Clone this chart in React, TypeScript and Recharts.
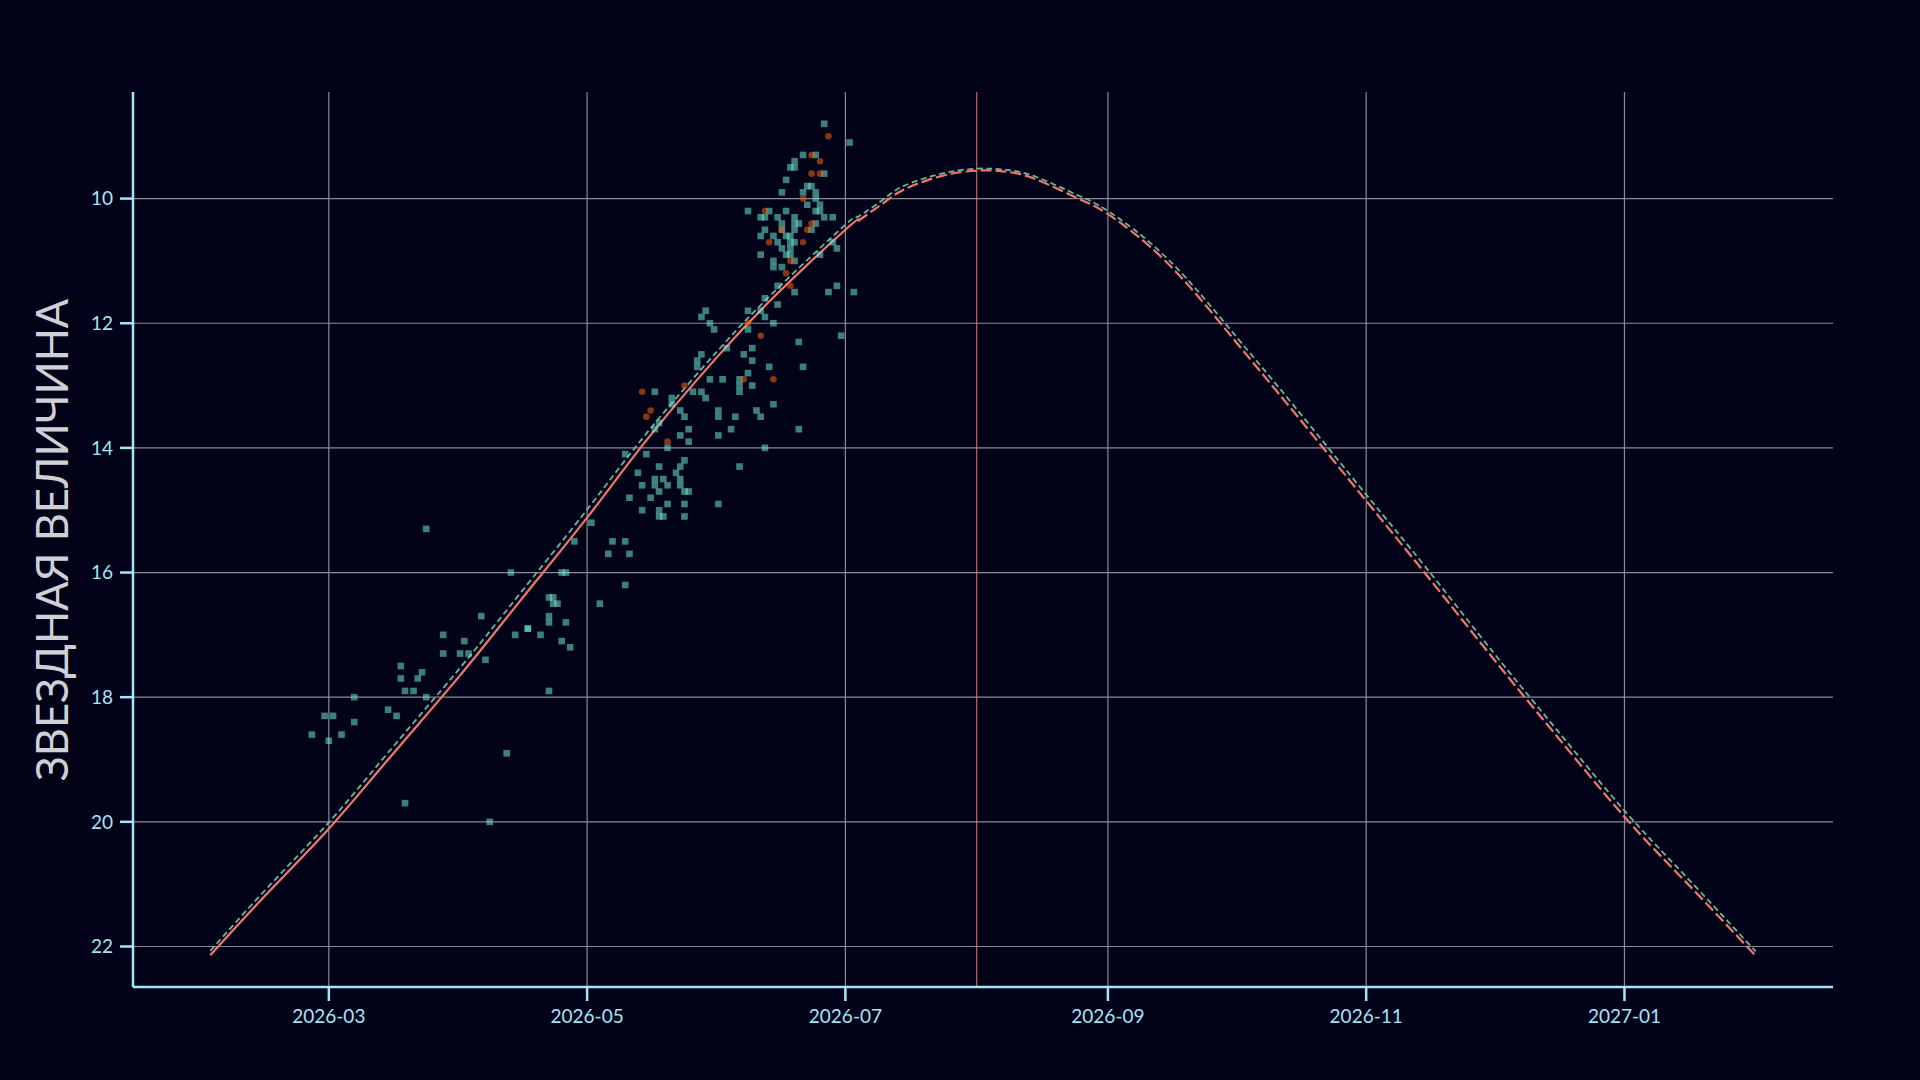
import React from "react";
import {
  ComposedChart,
  Line,
  ReferenceLine,
  Scatter,
  XAxis,
  YAxis,
} from "recharts";

type Obs = [string, number];

// predicted light curve (solid red until the last observation, dashed after)
const fitDates = [
  "2026-02-01", "2026-02-15", "2026-03-01", "2026-03-15", "2026-04-01", "2026-04-15",
  "2026-05-01", "2026-05-15", "2026-06-01", "2026-06-15", "2026-07-01", "2026-07-04",
  "2026-07-11", "2026-07-15", "2026-07-23", "2026-08-01", "2026-08-08", "2026-08-15",
  "2026-08-25", "2026-09-01", "2026-09-15", "2026-10-01", "2026-10-15", "2026-11-01",
  "2026-11-15", "2026-12-01", "2026-12-15", "2027-01-01", "2027-01-15", "2027-02-01",
];
const fitMag = [
  22.14, 21.11, 20.11, 19.0, 17.65, 16.47,
  15.12, 13.88, 12.52, 11.52, 10.5, 10.36,
  10.02, 9.85, 9.65, 9.55, 9.57, 9.69,
  10.0, 10.25, 11.03, 12.28, 13.43, 14.85,
  16.02, 17.38, 18.54, 19.92, 20.93, 22.15,
];
const altMag = [
  22.07, 21.02, 20.01, 18.89, 17.53, 16.35,
  14.99, 13.77, 12.43, 11.44, 10.42, 10.29,
  9.96, 9.79, 9.61, 9.52, 9.54, 9.65,
  9.95, 10.2, 10.96, 12.19, 13.33, 14.75,
  15.91, 17.28, 18.44, 19.82, 20.84, 22.08,
];
const lastObs = "2026-07-04";
const perihelion = "2026-08-01";

const obsFebApr: Obs[] = [
  ["2026-02-25", 18.6], ["2026-02-28", 18.3], ["2026-03-01", 18.7], ["2026-03-02", 18.3],
  ["2026-03-04", 18.6], ["2026-03-07", 18.0], ["2026-03-07", 18.4], ["2026-03-15", 18.2],
  ["2026-03-17", 18.3], ["2026-03-18", 17.5], ["2026-03-18", 17.7], ["2026-03-19", 17.9],
  ["2026-03-19", 19.7], ["2026-03-21", 17.9], ["2026-03-22", 17.7], ["2026-03-23", 17.6],
  ["2026-03-24", 18.0], ["2026-03-24", 15.3], ["2026-03-28", 17.0], ["2026-03-28", 17.3],
  ["2026-04-01", 17.3], ["2026-04-02", 17.1], ["2026-04-03", 17.3], ["2026-04-06", 16.7],
  ["2026-04-07", 17.4], ["2026-04-08", 20.0], ["2026-04-12", 18.9], ["2026-04-13", 16.0],
  ["2026-04-14", 17.0], ["2026-04-17", 16.9], ["2026-04-17", 16.9], ["2026-04-20", 17.0],
  ["2026-04-22", 16.4], ["2026-04-22", 16.7], ["2026-04-22", 16.8], ["2026-04-22", 17.9],
  ["2026-04-23", 16.4], ["2026-04-23", 16.5], ["2026-04-24", 16.5], ["2026-04-25", 17.1],
  ["2026-04-25", 16.0], ["2026-04-26", 16.0], ["2026-04-26", 16.8], ["2026-04-27", 17.2],
  ["2026-04-28", 15.5],
];

const obsMay: Obs[] = [
  ["2026-05-02", 15.2], ["2026-05-04", 16.5], ["2026-05-06", 15.7], ["2026-05-07", 15.5],
  ["2026-05-10", 15.5], ["2026-05-10", 16.2], ["2026-05-11", 15.7], ["2026-05-10", 14.1],
  ["2026-05-11", 14.8], ["2026-05-13", 14.4], ["2026-05-14", 14.6], ["2026-05-14", 15.0],
  ["2026-05-15", 14.1], ["2026-05-16", 14.8], ["2026-05-17", 13.1], ["2026-05-17", 13.7],
  ["2026-05-17", 14.5], ["2026-05-17", 14.6], ["2026-05-18", 13.6], ["2026-05-18", 14.3],
  ["2026-05-18", 14.7], ["2026-05-18", 15.0], ["2026-05-18", 15.1], ["2026-05-19", 14.5],
  ["2026-05-19", 15.1], ["2026-05-20", 14.0], ["2026-05-20", 14.6], ["2026-05-20", 14.9],
  ["2026-05-21", 13.2], ["2026-05-21", 13.3], ["2026-05-22", 14.4], ["2026-05-23", 13.4],
  ["2026-05-23", 13.8], ["2026-05-23", 14.3], ["2026-05-23", 14.5], ["2026-05-23", 14.6],
  ["2026-05-24", 13.5], ["2026-05-24", 14.2], ["2026-05-24", 14.7], ["2026-05-24", 14.9],
  ["2026-05-24", 15.1], ["2026-05-25", 13.7], ["2026-05-25", 13.9], ["2026-05-25", 14.7],
  ["2026-05-26", 13.1], ["2026-05-27", 12.6], ["2026-05-27", 12.7], ["2026-05-28", 11.9],
  ["2026-05-28", 12.5], ["2026-05-28", 13.1], ["2026-05-29", 11.8], ["2026-05-29", 13.2],
  ["2026-05-30", 12.0], ["2026-05-30", 12.9], ["2026-05-31", 12.1],
];

const obsJunJul: Obs[] = [
  ["2026-06-01", 13.4], ["2026-06-01", 13.5], ["2026-06-01", 13.8], ["2026-06-01", 14.9],
  ["2026-06-02", 12.9], ["2026-06-03", 12.4], ["2026-06-04", 13.7], ["2026-06-05", 13.5],
  ["2026-06-06", 12.9], ["2026-06-06", 13.0], ["2026-06-06", 13.1], ["2026-06-06", 14.3],
  ["2026-06-07", 12.5], ["2026-06-08", 11.8], ["2026-06-08", 12.1], ["2026-06-08", 12.8],
  ["2026-06-09", 12.4], ["2026-06-09", 12.6], ["2026-06-09", 13.0], ["2026-06-10", 13.4],
  ["2026-06-11", 11.8], ["2026-06-11", 13.5], ["2026-06-12", 11.9], ["2026-06-12", 14.0],
  ["2026-06-13", 12.7], ["2026-06-14", 12.0], ["2026-06-14", 13.3],
  ["2026-06-08", 10.2], ["2026-06-11", 10.3], ["2026-06-11", 10.6], ["2026-06-11", 10.9],
  ["2026-06-12", 10.3], ["2026-06-12", 10.5], ["2026-06-12", 11.6], ["2026-06-13", 10.2],
  ["2026-06-14", 10.6], ["2026-06-14", 11.0], ["2026-06-14", 11.1], ["2026-06-15", 10.3],
  ["2026-06-15", 10.7], ["2026-06-15", 11.4], ["2026-06-15", 11.7], ["2026-06-16", 9.9],
  ["2026-06-16", 10.4], ["2026-06-16", 10.5], ["2026-06-16", 10.8], ["2026-06-16", 11.1],
  ["2026-06-17", 9.7], ["2026-06-17", 10.2], ["2026-06-17", 10.6], ["2026-06-17", 10.9],
  ["2026-06-18", 9.5], ["2026-06-18", 10.6], ["2026-06-18", 10.7], ["2026-06-18", 10.8],
  ["2026-06-18", 10.9], ["2026-06-19", 9.4], ["2026-06-19", 9.5], ["2026-06-19", 10.3],
  ["2026-06-19", 10.4], ["2026-06-19", 10.5], ["2026-06-19", 10.7], ["2026-06-19", 11.0],
  ["2026-06-19", 11.5], ["2026-06-20", 10.4], ["2026-06-20", 12.3], ["2026-06-20", 13.7],
  ["2026-06-21", 9.3], ["2026-06-21", 9.9], ["2026-06-21", 12.7], ["2026-06-22", 9.8],
  ["2026-06-22", 10.1], ["2026-06-23", 9.8], ["2026-06-23", 10.5], ["2026-06-24", 9.3],
  ["2026-06-24", 9.9], ["2026-06-24", 10.0], ["2026-06-24", 10.2], ["2026-06-24", 10.4],
  ["2026-06-25", 10.1], ["2026-06-25", 10.2], ["2026-06-25", 10.9], ["2026-06-26", 8.8],
  ["2026-06-26", 9.6], ["2026-06-26", 10.3], ["2026-06-27", 11.5], ["2026-06-28", 10.3],
  ["2026-06-28", 10.7], ["2026-06-29", 10.8], ["2026-06-29", 11.4], ["2026-06-30", 12.2],
  ["2026-07-02", 9.1], ["2026-07-03", 11.5],
];

// visual estimates (orange dots)
const obsVisual: Obs[] = [
  ["2026-05-14", 13.1], ["2026-05-15", 13.5], ["2026-05-16", 13.4], ["2026-05-20", 13.9],
  ["2026-05-24", 13.0], ["2026-06-07", 12.9], ["2026-06-08", 12.0], ["2026-06-11", 12.2],
  ["2026-06-14", 12.9], ["2026-06-12", 10.2], ["2026-06-13", 10.7], ["2026-06-16", 10.5],
  ["2026-06-17", 11.2], ["2026-06-18", 11.0], ["2026-06-18", 11.4], ["2026-06-21", 10.0],
  ["2026-06-21", 10.7], ["2026-06-22", 10.5], ["2026-06-23", 9.3], ["2026-06-23", 9.6],
  ["2026-06-23", 10.4], ["2026-06-25", 9.4], ["2026-06-25", 9.6], ["2026-06-27", 9.0],
];

const xTicks = ["2026-03-01", "2026-05-01", "2026-07-01", "2026-09-01", "2026-11-01", "2027-01-01"];
const yTicks = [10, 12, 14, 16, 18, 20, 22];

const ts = (s: string) => Date.parse(s + "T00:00:00Z");
const toPts = (rows: Obs[]) => rows.map(([d, m]) => ({ t: ts(d), m }));

const fitRows = fitDates.map((d, i) => ({ t: ts(d), m: fitMag[i] }));
const fitSolid = fitRows.filter((r) => r.t <= ts(lastObs));
const fitDashed = fitRows.filter((r) => r.t >= ts(lastObs));
const altRows = fitDates.map((d, i) => ({ t: ts(d), m: altMag[i] }));
const ccdPts = toPts([...obsFebApr, ...obsMay, ...obsJunJul]);
const visPts = toPts(obsVisual);

const BG = "#020318";
const AXIS = "#a3e6fa";
const GRID = "#8a8a92";
const RED = "#f2766c";
const TEAL = "#67b89b";

const xDomain = [Date.UTC(2026, 0, 13, 18), Date.UTC(2027, 1, 19, 6)];

const Square = (p: any) => (
  <rect x={p.cx - 3.3} y={p.cy - 3.3} width={6.6} height={6.6} fill="#6de8d2" fillOpacity={0.55} />
);
const Dot = (p: any) => <circle cx={p.cx} cy={p.cy} r={3.3} fill="#f86010" fillOpacity={0.55} />;

export default function App() {
  return (
    <div style={{ position: "absolute", left: 0, top: 0, width: 1920, height: 1080, background: BG }}>
      <ComposedChart width={1920} height={1080} margin={{ top: 92, right: 87, bottom: 33, left: 0 }}>
        <XAxis
          type="number"
          dataKey="t"
          domain={xDomain}
          allowDataOverflow
          ticks={xTicks.map(ts)}
          tickFormatter={(v: number) => new Date(v).toISOString().slice(0, 7)}
          height={60}
          axisLine={{ stroke: AXIS, strokeWidth: 2.5 }}
          tickLine={{ stroke: AXIS, strokeWidth: 2.5 }}
          tickSize={14}
          tickMargin={9}
          tick={{ fill: AXIS, fontSize: 19, fontFamily: "Lato" }}
        />
        <YAxis
          type="number"
          dataKey="m"
          reversed
          domain={[8.29, 22.65]}
          allowDataOverflow
          ticks={yTicks}
          width={133}
          axisLine={{ stroke: AXIS, strokeWidth: 2.5 }}
          tickLine={{ stroke: AXIS, strokeWidth: 2.5 }}
          tickSize={13}
          tickMargin={7}
          tick={{ fill: AXIS, fontSize: 19, fontFamily: "Lato" }}
          label={{
            content: () => (
              <text
                x={51}
                y={540}
                transform="rotate(-90 51 540)"
                textAnchor="middle"
                dominantBaseline="central"
                fill="#cfd0d6"
                fontSize={43.5}
                fontFamily="Lato"
              >
                ЗВЕЗДНАЯ ВЕЛИЧИНА
              </text>
            ),
          }}
        />
        {yTicks.map((v) => (
          <ReferenceLine key={"gy" + v} y={v} stroke={GRID} strokeWidth={1.2} />
        ))}
        {xTicks.map((d) => (
          <ReferenceLine key={"gx" + d} x={ts(d)} stroke={GRID} strokeWidth={1.2} />
        ))}
        <ReferenceLine x={ts(perihelion)} stroke={RED} strokeOpacity={0.75} strokeWidth={1.3} />
        <Scatter data={ccdPts} shape={Square} isAnimationActive={false} />
        <Scatter data={visPts} shape={Dot} isAnimationActive={false} />
        <Line
          data={altRows}
          dataKey="m"
          type="natural"
          stroke={TEAL}
          strokeWidth={1.8}
          strokeDasharray="6 3.5"
          dot={false}
          activeDot={false}
          isAnimationActive={false}
        />
        <Line
          data={fitSolid}
          dataKey="m"
          type="natural"
          stroke={RED}
          strokeWidth={2.2}
          dot={false}
          activeDot={false}
          isAnimationActive={false}
        />
        <Line
          data={fitDashed}
          dataKey="m"
          type="natural"
          stroke={RED}
          strokeWidth={2.2}
          strokeDasharray="11 4"
          dot={false}
          activeDot={false}
          isAnimationActive={false}
        />
      </ComposedChart>
    </div>
  );
}
